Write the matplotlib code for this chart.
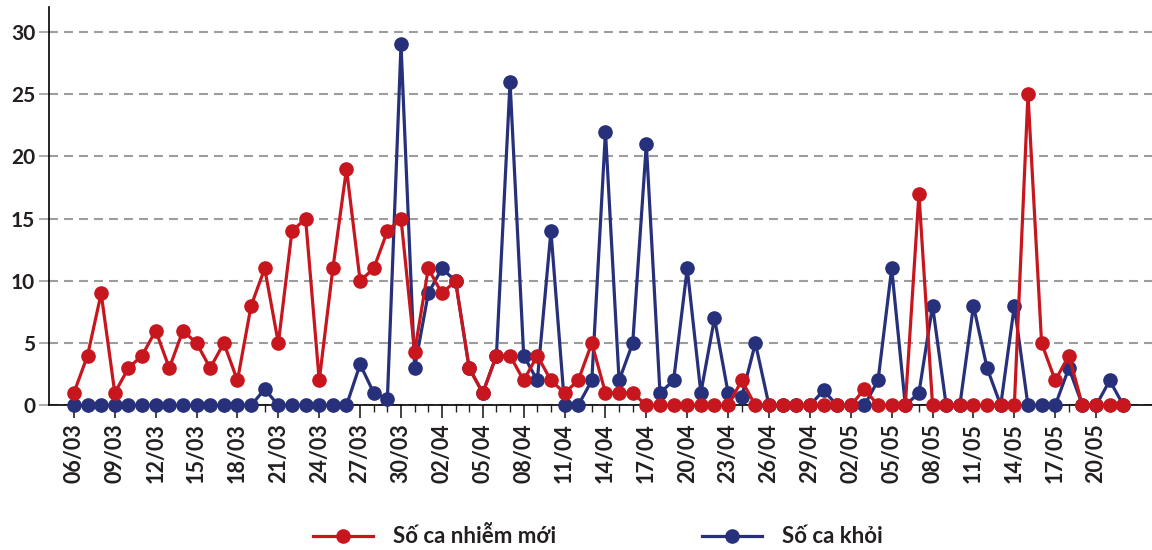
import numpy as np
import matplotlib.pyplot as plt
from datetime import date, timedelta

plt.rcParams['font.family'] = ['Lato', 'DejaVu Sans']

# Ngày: 06/03 -> 22/05
start = date(2020, 3, 6)
dates = [start + timedelta(days=i) for i in range(78)]
labels = [d.strftime('%d/%m') for d in dates]

# Số ca nhiễm mới
new_cases = [1, 4, 9, 1, 3, 4, 6, 3, 6, 5, 3, 5, 2, 8, 11, 5, 14, 15, 2, 11,
             19, 10, 11, 14, 15, 4.3, 11, 9, 10, 3, 1, 4, 4, 2, 4, 2, 1, 2, 5, 1,
             1, 1, 0, 0, 0, 0, 0, 0, 0, 2, 0, 0, 0, 0, 0, 0, 0, 0, 1.3, 0,
             0, 0, 17, 0, 0, 0, 0, 0, 0, 0, 25, 5, 2, 4, 0, 0, 0, 0]

# Số ca khỏi
recovered = [0, 0, 0, 0, 0, 0, 0, 0, 0, 0, 0, 0, 0, 0, 1.3, 0, 0, 0, 0, 0,
             0, 3.3, 1, 0.5, 29, 3, 9, 11, 10, 3, 1, 4, 26, 4, 2, 14, 0, 0, 2, 22,
             2, 5, 21, 1, 2, 11, 1, 7, 1, 0.7, 5, 0, 0, 0, 0, 1.2, 0, 0, 0, 2,
             11, 0, 1, 8, 0, 0, 8, 3, 0, 8, 0, 0, 0, 3, 0, 0, 2, 0]

red = '#c8161e'
blue = '#27307a'
text_color = '#231f20'

x = np.arange(len(labels))

fig = plt.figure(figsize=(11.52, 5.5), dpi=100)
ax = fig.add_axes([0.0425, 0.263, 0.9575, 0.724])

ax.plot(x, recovered, color=blue, lw=2.3, marker='o', ms=9.5,
        clip_on=False, zorder=3, label='Số ca khỏi')
ax.plot(x, new_cases, color=red, lw=2.3, marker='o', ms=9.5,
        clip_on=False, zorder=4, label='Số ca nhiễm mới')

ax.set_xlim(-1.83, 79.1)
ax.set_ylim(0, 32)

# Trục
for s in ['top', 'right']:
    ax.spines[s].set_visible(False)
ax.spines['left'].set_color('black')
ax.spines['bottom'].set_color('black')
ax.spines['left'].set_linewidth(1.2)
ax.spines['bottom'].set_linewidth(1.2)

ax.set_yticks(range(0, 31, 5))
ax.yaxis.grid(True, color='#9d9d9d', lw=1.5, linestyle=(0, (4.3, 2.9)))
ax.set_axisbelow(True)
ax.tick_params(axis='y', length=7, width=1.2, color='#9d9d9d', pad=3,
               labelsize=15, labelcolor=text_color)
ax.yaxis.get_major_ticks()[0].tick1line.set_color('black')

ax.set_xticks(x[::3])
ax.set_xticklabels(labels[::3], rotation=90)
ax.set_xticks(x, minor=True)
ax.tick_params(axis='x', which='major', length=9, width=1.2, color='#222222',
               pad=4, labelsize=15.5, labelcolor=text_color)
ax.tick_params(axis='x', which='minor', length=5, width=1.0, color='#222222')

for lab in ax.get_xticklabels() + ax.get_yticklabels():
    lab.set_fontweight('bold')

# Chú thích
h_red, h_blue = ax.lines[1], ax.lines[0]
leg = fig.legend(handles=[h_red, h_blue], loc='center',
                 bbox_to_anchor=(0.519, 0.024), ncol=2, frameon=False,
                 handlelength=2.7, handletextpad=0.9, columnspacing=6.6,
                 prop={'weight': 'bold', 'size': 16})
for t in leg.get_texts():
    t.set_color(text_color)

fig.savefig('out.png', dpi=100)
